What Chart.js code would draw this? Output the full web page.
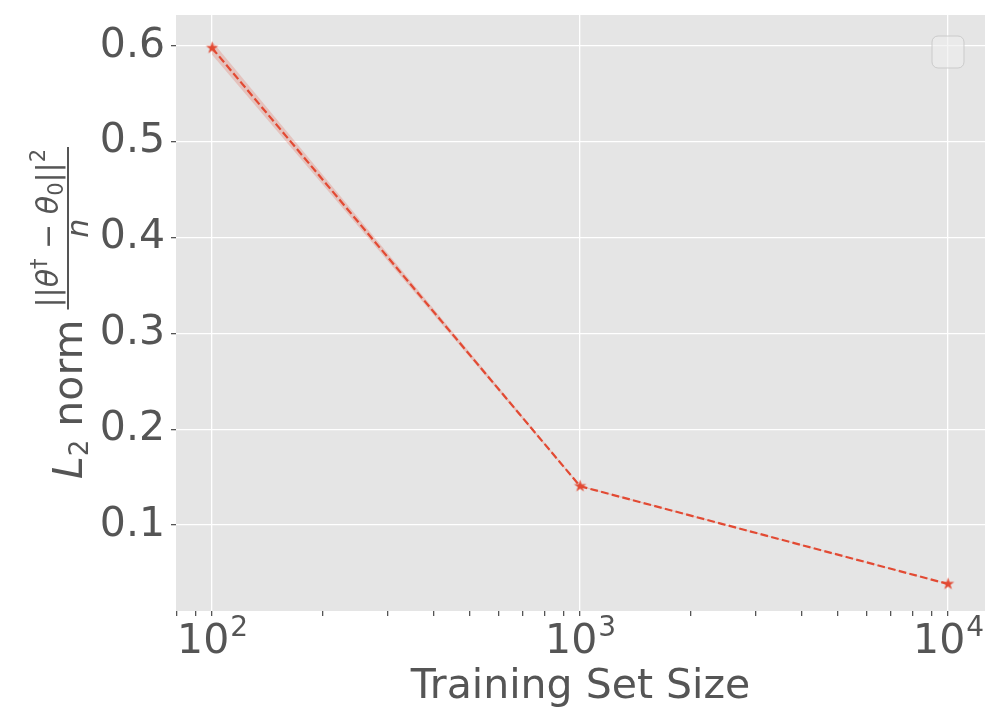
<!DOCTYPE html>
<html>
<head>
<meta charset="utf-8">
<script src="https://cdn.jsdelivr.net/npm/chart.js@4.4.0/dist/chart.umd.min.js"></script>
<style>
  body { margin: 0; background: #fff; }
  #wrap { width: 1000px; height: 721px; }
</style>
</head>
<body>
<div id="wrap"><canvas id="chart" width="1000" height="721"></canvas></div>
<script>
// ---- data ----
const sizes = [100, 1000, 10000];
const norms = [0.598, 0.1405, 0.0384];
const bandHigh = [0.605, 0.1412, 0.0387];
const bandLow = [0.591, 0.1398, 0.0381];

const xMajor = [100, 1000, 10000];
const xMinor = [80, 90, 200, 300, 400, 500, 600, 700, 800, 900,
    2000, 3000, 4000, 5000, 6000, 7000, 8000, 9000];
const xExp = { 100: "2", 1000: "3", 10000: "4" };
const yTicks = [0.1, 0.2, 0.3, 0.4, 0.5, 0.6];

const X_MIN = 79.8, X_MAX = 12600;
const Y_MIN = 0.0102, Y_MAX = 0.6324;

const RED = "#E24A33";
const TEXT = "#555555";
const FONT = "'DejaVu Sans', sans-serif";

// filled star marker like matplotlib '*'
function makeStar(r) {
    const c = document.createElement("canvas");
    c.width = c.height = Math.ceil(r * 2) + 2;
    const g = c.getContext("2d");
    const cx = c.width / 2, cy = c.height / 2;
    g.beginPath();
    for (let i = 0; i < 10; i++) {
        const rad = i % 2 === 0 ? r : r * 0.382;
        const a = -Math.PI / 2 + i * Math.PI / 5;
        g.lineTo(cx + rad * Math.cos(a), cy + rad * Math.sin(a));
    }
    g.closePath();
    g.fillStyle = RED;
    g.fill();
    return c;
}
const star = makeStar(6.5);

const pts = arr => sizes.map((s, i) => ({ x: s, y: arr[i] }));

// ---- plugins ----
const bgPlugin = {
    id: "bg",
    beforeDraw(chart) {
        const { ctx, chartArea: a } = chart;
        ctx.save();
        ctx.fillStyle = "#fff";
        ctx.fillRect(0, 0, chart.width, chart.height);
        ctx.fillStyle = "#E5E5E5";
        ctx.fillRect(a.left, a.top, a.right - a.left, a.bottom - a.top);
        ctx.restore();
    }
};

const extrasPlugin = {
    id: "extras",
    afterDraw(chart) {
        const { ctx, chartArea: a } = chart;
        const xs = chart.scales.x;

        // x tick labels 10^k with a raised exponent
        ctx.save();
        ctx.fillStyle = TEXT;
        ctx.textBaseline = "alphabetic";
        xMajor.forEach(v => {
            const px = xs.getPixelForValue(v);
            ctx.font = `41px ${FONT}`;
            const w1 = ctx.measureText("10").width;
            ctx.font = `28px ${FONT}`;
            const w2 = ctx.measureText(xExp[v]).width;
            const left = px - (w1 + w2) / 2;
            ctx.font = `41px ${FONT}`;
            ctx.fillText("10", left, a.bottom + 42);
            ctx.font = `28px ${FONT}`;
            ctx.fillText(xExp[v], left + w1 + 1, a.bottom + 25);
        });
        ctx.restore();

        // empty legend box
        ctx.save();
        const bw = 32, bx = a.right - 21 - bw, by = a.top + 21;
        ctx.beginPath();
        ctx.roundRect(bx, by, bw, bw, 6);
        ctx.fillStyle = "rgba(236,236,236,0.6)";
        ctx.fill();
        ctx.strokeStyle = "rgba(200,200,200,0.9)";
        ctx.lineWidth = 1;
        ctx.stroke();
        ctx.restore();

        // y axis title: L2 norm ||θ† − θ0||² / n
        const big = 41, small = 30, tiny = 21;
        const fReg = s => `${s}px ${FONT}`;
        const fIt = s => `oblique ${s}px ${FONT}`;

        const head = [
            ["L", fIt(big), 0],
            ["2", fReg(tiny + 5), 6],
            [" norm", fReg(big), 0]
        ];
        const numBase = -24;
        const num = [
            ["||", fReg(small), numBase],
            ["θ", fIt(small), numBase],
            ["†", fReg(tiny), numBase - 12],
            [" − ", fReg(small), numBase],
            ["θ", fIt(small), numBase],
            ["0", fReg(tiny), numBase + 5],
            ["||", fReg(small), numBase],
            ["2", fReg(tiny), numBase - 13]
        ];
        const width = parts => parts.reduce((w, p) => {
            ctx.font = p[1];
            return w + ctx.measureText(p[0]).width;
        }, 0);

        const headW = width(head);
        const numW = width(num) + 4;
        const gap = 10;
        const total = headW + gap + numW;

        ctx.save();
        ctx.translate(82, (a.top + a.bottom) / 2 + total / 2);
        ctx.rotate(-Math.PI / 2);
        ctx.fillStyle = TEXT;
        ctx.textBaseline = "alphabetic";
        let fx = 0;
        head.forEach(p => {
            ctx.font = p[1];
            ctx.fillText(p[0], fx, p[2]);
            fx += ctx.measureText(p[0]).width;
        });
        fx += gap;
        const fracStart = fx;
        let nx = fracStart + 2;
        num.forEach(p => {
            ctx.font = p[1];
            ctx.fillText(p[0], nx, p[2]);
            nx += ctx.measureText(p[0]).width;
        });
        // fraction bar
        ctx.strokeStyle = TEXT;
        ctx.lineWidth = 2;
        ctx.beginPath();
        ctx.moveTo(fracStart, -14);
        ctx.lineTo(fracStart + numW, -14);
        ctx.stroke();
        // denominator
        ctx.font = fIt(small);
        const nw = ctx.measureText("n").width;
        ctx.fillText("n", fracStart + numW / 2 - nw / 2, 6);
        ctx.restore();
    }
};

// ---- chart ----
new Chart(document.getElementById("chart"), {
    type: "line",
    data: {
        datasets: [
            {
                data: pts(norms),
                borderColor: RED,
                backgroundColor: RED,
                borderWidth: 2.2,
                borderDash: [7.7, 3.3],
                pointStyle: star,
                pointRadius: 6,
                fill: false,
                tension: 0
            },
            {
                data: pts(bandHigh),
                borderWidth: 0,
                pointRadius: 0,
                backgroundColor: "rgba(226,74,51,0.22)",
                fill: "+1",
                tension: 0
            },
            {
                data: pts(bandLow),
                borderWidth: 0,
                pointRadius: 0,
                fill: false,
                tension: 0
            }
        ]
    },
    options: {
        responsive: false,
        animation: false,
        layout: { padding: { top: 15, right: 15, left: 0, bottom: 9 } },
        plugins: {
            legend: { display: false },
            tooltip: { enabled: false }
        },
        scales: {
            x: {
                type: "logarithmic",
                min: X_MIN,
                max: X_MAX,
                afterBuildTicks: s => {
                    s.ticks = xMajor.concat(xMinor).sort((a, b) => a - b)
                        .map(v => ({ value: v }));
                },
                afterFit: s => {
                    s.height = 101;
                    s.paddingLeft = 0;
                    s.paddingRight = 0;
                },
                border: { display: false },
                grid: {
                    color: c => xMajor.includes(c.tick && c.tick.value) ? "#ffffff" : "rgba(0,0,0,0)",
                    tickColor: TEXT,
                    lineWidth: 1.3,
                    tickLength: 5
                },
                ticks: {
                    autoSkip: false,
                    maxRotation: 0,
                    color: TEXT,
                    font: { size: 41, family: FONT },
                    callback: () => ""
                },
                title: {
                    display: true,
                    text: "Training Set Size",
                    color: TEXT,
                    font: { size: 41, family: FONT },
                    padding: { top: 0, bottom: 0 }
                }
            },
            y: {
                min: Y_MIN,
                max: Y_MAX,
                afterBuildTicks: s => {
                    s.ticks = yTicks.map(v => ({ value: v }));
                },
                afterFit: s => {
                    s.width = 176;
                    s.paddingTop = 0;
                    s.paddingBottom = 0;
                },
                border: { display: false },
                grid: {
                    color: "#ffffff",
                    tickColor: TEXT,
                    lineWidth: 1.3,
                    tickLength: 5
                },
                ticks: {
                    padding: 6,
                    color: TEXT,
                    font: { size: 41, family: FONT },
                    callback: v => v.toFixed(1)
                }
            }
        }
    },
    plugins: [bgPlugin, extrasPlugin]
});
</script>
</body>
</html>
